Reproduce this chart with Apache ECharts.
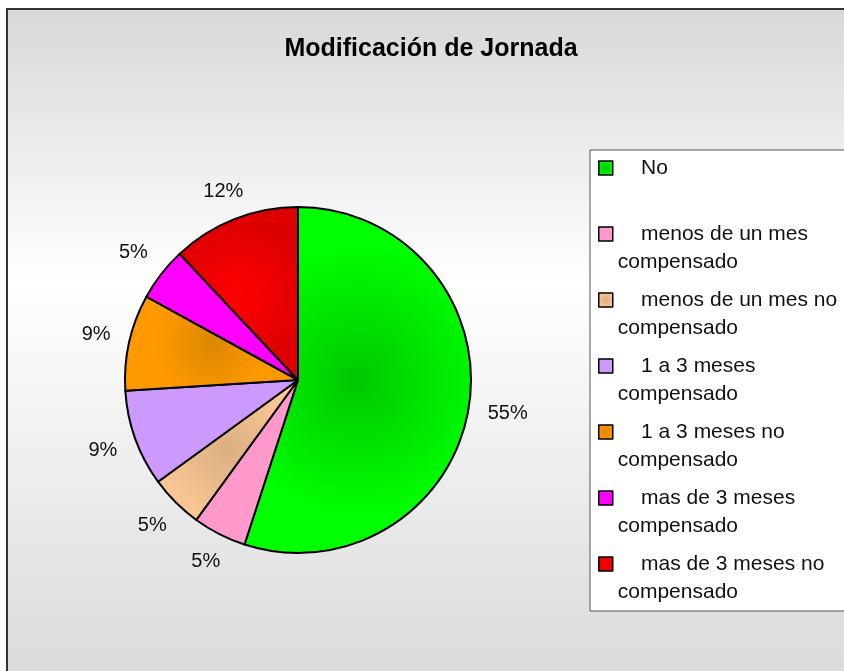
<!DOCTYPE html>
<html>
<head>
<meta charset="utf-8">
<script src="https://cdn.jsdelivr.net/npm/echarts@6/dist/echarts.min.js"></script>
<style>
  html, body { margin: 0; padding: 0; background: #fff; }
  #chart { width: 844px; height: 671px; }
</style>
</head>
<body>
<div id="chart"></div>
<script>
// Datos del gráfico
const chartTitle = 'Modificación de Jornada';
const categories = [
  'No',
  'menos de un mes compensado',
  'menos de un mes no compensado',
  '1 a 3 meses compensado',
  '1 a 3 meses no compensado',
  'mas de 3 meses compensado',
  'mas de 3 meses no compensado',
];
const values = [55, 5, 5, 9, 9, 5, 12];

// Colores: [borde, centro] para el sombreado radial
const sliceColors = [
  ['#00ff00', '#00c800'],
  ['#ff99cc', '#ff99cc'],
  ['#ffcc99', '#dcae80'],
  ['#cc99ff', '#cc99ff'],
  ['#ff9900', '#dc8800'],
  ['#ff00ff', '#ff00ff'],
  ['#dc0000', '#ff0000'],
];

const FONT = "'Liberation Sans', Arial, sans-serif";
const CX = 298, CY = 380, R = 173, GAP = 19;

const shade = (c) => ({
  type: 'radial', x: 0.5, y: 0.5, r: 0.6,
  colorStops: [{ offset: 0, color: c[1] }, { offset: 1, color: c[0] }],
});

// Ángulo medio de cada porción (radianes, desde arriba en sentido horario)
const total = values.reduce((a, b) => a + b, 0);
let acc = 0;
const midAngles = values.map((v) => {
  const m = (acc + v / 2) / total * Math.PI * 2;
  acc += v;
  return m;
});

const chart = echarts.init(document.getElementById('chart'));

chart.setOption({
  animation: false,
  graphic: [
    {
      type: 'rect', z: -10,
      shape: { x: 7, y: 9, width: 860, height: 680 },
      style: {
        fill: {
          type: 'linear', x: 0, y: 0, x2: 0, y2: 1,
          colorStops: [
            { offset: 0, color: '#d8d8d8' },
            { offset: 0.4, color: '#ffffff' },
            { offset: 1, color: '#d9d9d9' },
          ],
        },
        stroke: '#333', lineWidth: 2,
      },
    },
    {
      type: 'rect', z: -9,
      shape: { x: 590, y: 150, width: 270, height: 461 },
      style: { fill: '#fff', stroke: '#555', lineWidth: 1 },
    },
  ],
  title: {
    text: chartTitle,
    left: 431,
    top: 37,
    padding: 0,
    textAlign: 'center',
    textStyle: { fontFamily: FONT, fontSize: 25, fontWeight: 'bold', color: '#000' },
  },
  legend: {
    orient: 'vertical',
    left: 598,
    top: 126,
    padding: 0,
    itemWidth: 14,
    itemHeight: 14,
    itemGap: -18,
    icon: 'rect',
    selectedMode: false,
    itemStyle: { borderColor: '#000', borderWidth: 1.5 },
    textStyle: { fontFamily: FONT, fontSize: 21, lineHeight: 28, color: '#111' },
    formatter: (name) => {
      const i = name.lastIndexOf(' compensado');
      const first = i > 0 ? name.slice(0, i) : name;
      const second = i > 0 ? 'compensado' : ' ';
      return ' \n    ' + first + '\n' + second;
    },
  },
  series: [
    {
      type: 'pie',
      center: [CX, CY],
      radius: R,
      startAngle: 90,
      clockwise: true,
      avoidLabelOverlap: false,
      percentPrecision: 0,
      emphasis: { disabled: true },
      itemStyle: { borderColor: '#000', borderWidth: 2 },
      label: {
        show: true,
        position: 'outside',
        formatter: '{d}%',
        fontFamily: FONT,
        fontSize: 20,
        color: '#111',
      },
      labelLine: { show: false },
      labelLayout: (params) => {
        const a = midAngles[params.dataIndex];
        const dx = Math.sin(a), dy = -Math.cos(a);
        const w = params.labelRect.width, h = params.labelRect.height;
        const tx = Math.abs(dx) > 1e-6 ? w / 2 / Math.abs(dx) : Infinity;
        const ty = Math.abs(dy) > 1e-6 ? h / 2 / Math.abs(dy) : Infinity;
        const d = R + GAP + Math.min(tx, ty);
        return { x: CX + dx * d, y: CY + dy * d, align: 'center', verticalAlign: 'middle' };
      },
      data: categories.map((name, i) => ({
        name,
        value: values[i],
        itemStyle: { color: shade(sliceColors[i]) },
      })),
    },
  ],
});
</script>
</body>
</html>
